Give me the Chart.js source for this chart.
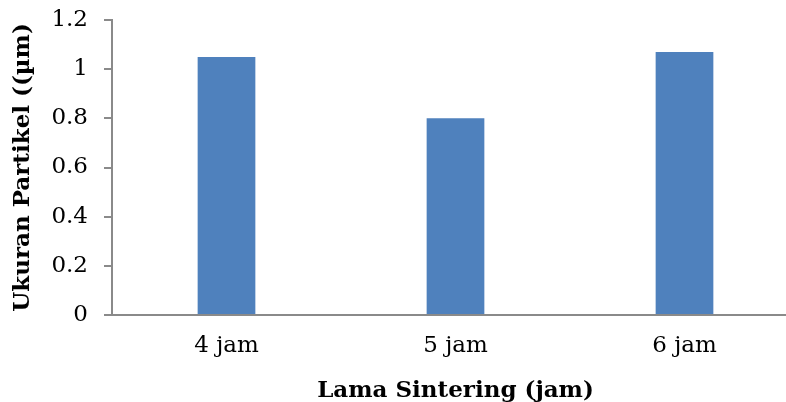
<!DOCTYPE html>
<html>
<head>
<meta charset="utf-8">
<script src="https://cdn.jsdelivr.net/npm/chart.js@4/dist/chart.umd.min.js"></script>
<style>
  html, body { margin: 0; padding: 0; background: #fff; overflow: hidden; width: 786px; height: 402px; }
  canvas { display: block; }
</style>
</head>
<body>
<canvas id="c" width="801" height="402"></canvas>
<script>
// Particle size versus sintering time
const categories = ['4 jam', '5 jam', '6 jam'];
const particleSize = [1.05, 0.80, 1.07];
const yTicks = [0, 0.2, 0.4, 0.6, 0.8, 1, 1.2];

const axisGray = '#8a8a8a';
const serif = "'DejaVu Serif', 'Liberation Serif', serif";

new Chart(document.getElementById('c'), {
  type: 'bar',
  data: {
    labels: categories,
    datasets: [{
      data: particleSize,
      backgroundColor: '#4f81bd',
      borderWidth: 0,
      barPercentage: 0.252,
      categoryPercentage: 1
    }]
  },
  options: {
    responsive: false,
    animation: false,
    layout: { padding: { top: 20, left: 0, right: 2, bottom: 0 } },
    plugins: { legend: { display: false }, tooltip: { enabled: false } },
    scales: {
      x: {
        grid: { display: false, drawTicks: false },
        border: { display: true, color: axisGray, width: 2 },
        ticks: { color: '#000', font: { family: serif, size: 23 }, padding: 17 },
        title: {
          display: true,
          text: 'Lama Sintering (jam)',
          color: '#000',
          font: { family: serif, size: 23, weight: 'bold' },
          padding: { top: 2, bottom: -3 }
        },
        afterFit: s => { s.height = 87; s.paddingLeft = 0; s.paddingRight = 0; }
      },
      y: {
        min: 0,
        max: 1.2,
        afterBuildTicks: s => { s.ticks = yTicks.map(v => ({ value: v })); },
        grid: { display: true, drawOnChartArea: false, drawTicks: true, tickLength: 8, color: axisGray, lineWidth: 2 },
        border: { display: true, color: axisGray, width: 2 },
        ticks: {
          color: '#000',
          font: { family: serif, size: 23 },
          padding: 16,
          callback: v => String(Math.round(v * 10) / 10)
        },
        title: {
          display: true,
          text: 'Ukuran Partikel ((µm)',
          color: '#000',
          font: { family: serif, size: 23, weight: 'bold' },
          padding: { top: 9, bottom: 0 }
        },
        afterFit: s => { s.width = 112; s.paddingTop = 0; s.paddingBottom = 0; }
      }
    }
  }
});
</script>
</body>
</html>
